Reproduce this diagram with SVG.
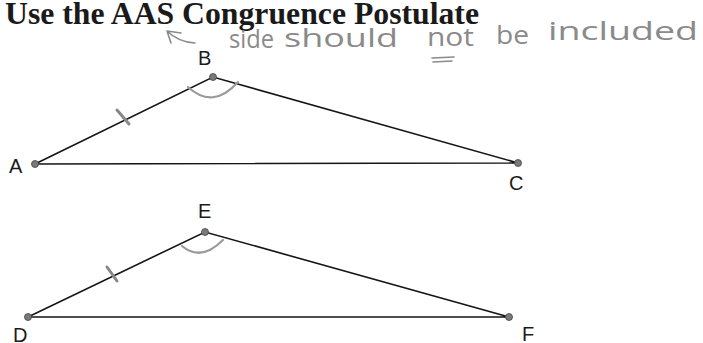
<svg xmlns="http://www.w3.org/2000/svg" width="703" height="343" viewBox="0 0 703 343">
<style>
.title{font-family:"Liberation Serif","Times New Roman",serif;font-weight:bold;font-size:31px;fill:#1a1a1a}
.hand{font-family:"Open Sans","DejaVu Sans",sans-serif;font-weight:400;font-size:25px;fill:#8a8a8a}
.handline{fill:none;stroke:#8a8a8a;stroke-width:1.6;stroke-linecap:round}
.lbl{font-family:"Liberation Sans",Arial,sans-serif;font-size:20px;fill:#1a1a1a}
.edge{stroke:#151515;stroke-width:1.6;fill:none}
.pt{fill:#7a7a7a;stroke:#444;stroke-width:0.8}
.tick{stroke:#888;stroke-width:3;stroke-linecap:round;fill:none}
.arc{stroke:#9a9a9a;stroke-width:2.2;fill:none;stroke-linecap:round}
</style>
<rect width="703" height="343" fill="#ffffff"/>
<g id="title">
<text class="title" x="5" y="24" textLength="474" lengthAdjust="spacingAndGlyphs">Use the AAS Congruence Postulate</text>
</g>
<g id="annotation">
<path class="handline" d="M167,31 L181,33 M167,31 L171,43 M167,31 Q178,42 195,43"/>
<text class="hand" x="229" y="48" textLength="45" lengthAdjust="spacingAndGlyphs">side</text>
<text class="hand" x="284" y="47" textLength="114" lengthAdjust="spacingAndGlyphs">should</text>
<text class="hand" x="427" y="46" textLength="47" lengthAdjust="spacingAndGlyphs">not</text>
<text class="hand" x="496" y="44" textLength="33" lengthAdjust="spacingAndGlyphs">be</text>
<text class="hand" x="548" y="40" textLength="150" lengthAdjust="spacingAndGlyphs">included</text>
<path class="handline" d="M432,58 L454,57 M433,62 L452,61"/>
</g>
<g id="connectors">
<path class="edge" d="M35,164 L213,77 L518,163 Z"/>
<path class="edge" d="M28,317 L205,232 L509,317 Z"/>
<path class="tick" d="M117,110 L129,124"/>
<path class="arc" d="M188,87 Q213,110 238,82"/>
<path class="tick" d="M107,267 L117,281"/>
<path class="arc" d="M182,246 Q201,262 223,240"/>
</g>
<g id="A"><circle class="pt" cx="35" cy="164" r="3.5"/><text class="lbl" x="9" y="173">A</text></g>
<g id="B"><circle class="pt" cx="213" cy="77" r="3.5"/><text class="lbl" x="198" y="65">B</text></g>
<g id="C"><circle class="pt" cx="518" cy="163" r="3.5"/><text class="lbl" x="509" y="190">C</text></g>
<g id="D"><circle class="pt" cx="28" cy="317" r="3.5"/><text class="lbl" x="13" y="342">D</text></g>
<g id="E"><circle class="pt" cx="205" cy="232" r="3.5"/><text class="lbl" x="198" y="218">E</text></g>
<g id="F"><circle class="pt" cx="509" cy="317" r="3.5"/><text class="lbl" x="522" y="341">F</text></g>
</svg>
